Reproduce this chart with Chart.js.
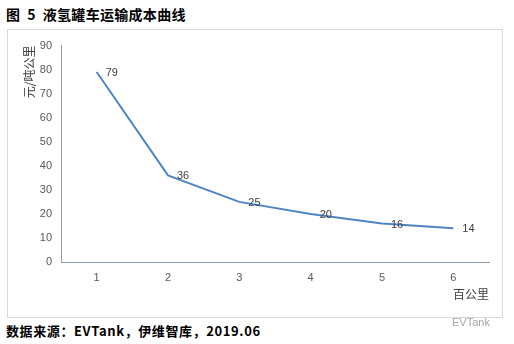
<!DOCTYPE html>
<html>
<head>
<meta charset="utf-8">
<script src="https://cdn.jsdelivr.net/npm/chart.js@4"></script>
<style>
  html, body { margin: 0; padding: 0; background: #fff; }
  body { width: 514px; height: 344px; position: relative; overflow: hidden; font-family: "Noto Sans CJK SC", "Noto Sans", sans-serif; }
  #title { position: absolute; left: 6px; top: 4px; font-size: 14px; font-weight: bold; color: #000; letter-spacing: 0.3px; white-space: pre; }
  #frame { position: absolute; left: 7px; top: 29px; width: 494px; height: 287px; border: 1px solid #d9d9d9; }
  #wrap { position: absolute; left: 8px; top: 30px; width: 494px; height: 287px; }
  #source { position: absolute; left: 6px; top: 321px; font-size: 13px; font-weight: bold; color: #000; letter-spacing: 0.6px; white-space: nowrap; }
  #brand { position: absolute; left: 452px; top: 316px; font-size: 11px; color: #a6a6a6; font-family: "Liberation Sans", sans-serif; white-space: nowrap; }
</style>
</head>
<body>
<div id="title">图  5  液氢罐车运输成本曲线</div>
<div id="frame"></div>
<div id="wrap"><canvas id="c" width="494" height="287"></canvas></div>
<div id="source">数据来源：EVTank，伊维智库，2019.06</div>
<div id="brand">EVTank</div>
<script>
const categories = ['1', '2', '3', '4', '5', '6'];
const costValues = [79, 36, 25, 20, 16, 14];
const yTitle = '元/吨公里';
const xTitle = '百公里';

const labelPlugin = {
  id: 'pointLabels',
  afterDatasetsDraw(chart) {
    const ctx = chart.ctx;
    const meta = chart.getDatasetMeta(0);
    ctx.save();
    ctx.font = '11px "Liberation Sans", "Noto Sans", sans-serif';
    ctx.fillStyle = '#404040';
    ctx.textAlign = 'left';
    ctx.textBaseline = 'middle';
    meta.data.forEach((pt, i) => {
      ctx.fillText(String(costValues[i]), pt.x + 9, pt.y + 1);
    });
    ctx.restore();
  }
};

new Chart(document.getElementById('c'), {
  type: 'line',
  data: {
    labels: categories,
    datasets: [{
      data: costValues,
      borderColor: '#4f86c1',
      borderWidth: 2,
      pointRadius: 0,
      tension: 0,
      fill: false
    }]
  },
  options: {
    responsive: false,
    animation: false,
    devicePixelRatio: 1,
    layout: { padding: { top: 10, right: 13, left: 0, bottom: 0 } },
    plugins: { legend: { display: false }, tooltip: { enabled: false } },
    scales: {
      x: {
        type: 'category',
        offset: true,
        grid: { display: false, drawTicks: false },
        border: { display: true, color: '#8a9db2', width: 1 },
        ticks: { color: '#595959', padding: 9, font: { size: 11, family: '"Liberation Sans", "Noto Sans", sans-serif' } },
        title: { display: true, text: xTitle, align: 'end', color: '#404040', padding: { top: 0, bottom: 15 }, font: { size: 12, family: '"Noto Sans CJK SC", sans-serif' } },
        afterFit(scale) { scale.height = 55; }
      },
      y: {
        min: 0,
        max: 90,
        grid: { display: false, drawTicks: false },
        border: { display: true, color: '#8a9db2', width: 1 },
        ticks: { stepSize: 10, color: '#595959', padding: 9, font: { size: 11, family: '"Liberation Sans", "Noto Sans", sans-serif' } },
        title: { display: true, text: yTitle, align: 'end', color: '#404040', padding: { top: 14, bottom: 0 }, font: { size: 12, family: '"Noto Sans CJK SC", sans-serif' } },
        afterFit(scale) { scale.width = 53; }
      }
    }
  },
  plugins: [labelPlugin]
});
</script>
</body>
</html>
